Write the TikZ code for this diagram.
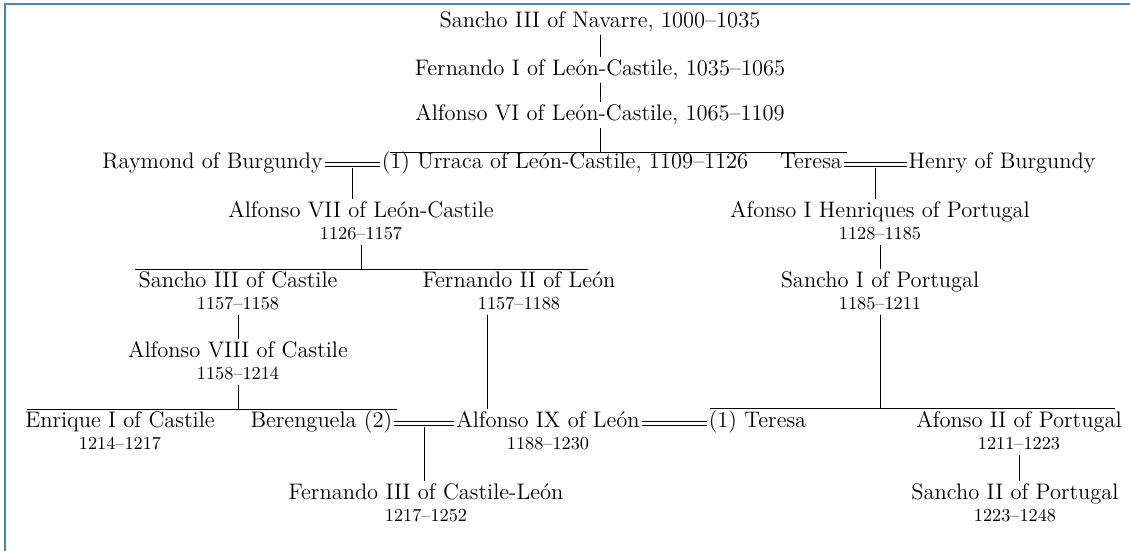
\documentclass[tikz,border=0pt]{standalone}
\usepackage{tikz}
\usetikzlibrary{positioning}
\usetikzlibrary{graphs}
\definecolor{frameblue}{RGB}{79,129,189}
\tikzset{person/.style={inner sep=1pt, text height=9pt, text depth=3pt, font=\fontsize{12.8}{15}\selectfont}}
\tikzset{reign/.style={inner sep=1pt, text height=7pt, text depth=2pt, font=\fontsize{10.4}{12}\selectfont}}
\tikzset{wed/.style={double, double distance=1.8pt, line width=0.35pt}}

\begin{document}
\begin{tikzpicture}[x=0.02cm, y=-0.02cm]
            \useasboundingbox (0,0) rectangle (1130,551);
            \draw[frameblue, line width=1.2pt] (5,551) -- (5,4) -- (1130,4);

            % first generations
            \node (s3n) [person] at (600,22)  {Sancho III of Navarre, 1000--1035};
            \node (f1)  [person] at (600,70)  {Fernando I of León-Castile, 1035--1065};
            \node (a6)  [person] at (600,115) {Alfonso VI of León-Castile, 1065--1109};

            \node (urr)  [person] at (565,163)         {(1) Urraca of León-Castile, 1109--1126};
            \node (ray)  [person, left=1.1cm of urr]   {Raymond of Burgundy};
            \node (ter1) [person] at (811,163)         {Teresa};
            \node (hen)  [person, right=1.25cm of ter1] {Henry of Burgundy};

            \node (a7)   [person] at (361,212)  {Alfonso VII of León-Castile};
            \node (a7d)  [reign, below=0pt of a7]  {1126--1157};
            \node (afh)  [person] at (880,212)  {Afonso I Henriques of Portugal};
            \node (afhd) [reign, below=0pt of afh] {1128--1185};

            \node (s3c)  [person] at (238,282)  {Sancho III of Castile};
            \node (s3cd) [reign, below=0pt of s3c] {1157--1158};
            \node (f2)   [person] at (519,282)  {Fernando II of León};
            \node (f2d)  [reign, below=0pt of f2]  {1157--1188};
            \node (s1p)  [person] at (880,282)  {Sancho I of Portugal};
            \node (s1pd) [reign, below=0pt of s1p] {1185--1211};

            \node (a8)   [person] at (238,352)  {Alfonso VIII of Castile};
            \node (a8d)  [reign, below=0pt of a8]  {1158--1214};

            % last generations
            \node (en1)  [person] at (120,422)   {Enrique I of Castile};
            \node (en1d) [reign, below=0pt of en1] {1214--1217};
            \node (a9)   [person] at (548,422)   {Alfonso IX of León};
            \node (a9d)  [reign, below=0pt of a9]  {1188--1230};
            \node (ber)  [person, left=1.2cm of a9]   {Berenguela (2)};
            \node (ter2) [person, right=1.3cm of a9]  {(1) Teresa};
            \node (af2)  [person] at (1019,422)  {Afonso II of Portugal};
            \node (af2d) [reign, below=0pt of af2] {1211--1223};

            \node (f3)   [person] at (426,494)   {Fernando III of Castile-León};
            \node (f3d)  [reign, below=0pt of f3]  {1217--1252};
            \node (s2p)  [person] at (1015,494)  {Sancho II of Portugal};
            \node (s2pd) [reign, below=0pt of s2p] {1223--1248};

            % sibling bars
            \coordinate (b1l) at (390,152);  \coordinate (b1r) at (847,152);
            \coordinate (b2l) at (135,269);  \coordinate (b2r) at (588,269);
            \coordinate (b3l) at (27,409);   \coordinate (b3r) at (397,409);
            \coordinate (b4l) at (710,408);  \coordinate (b4r) at (1115,408);
            \draw (b1l) -- (b1r);
            \draw (b2l) -- (b2r);
            \draw (b3l) -- (b3r);
            \draw (b4l) -- (b4r);

            % marriages
            \draw[wed] (ray.mid east) -- coordinate[midway] (m1) (urr.mid west);
            \draw[wed] (ter1.mid east) -- coordinate[midway] (m2) (hen.mid west);
            \draw[wed] (ber.mid east) -- coordinate[midway] (m3) (a9.mid west);
            \draw[wed] (a9.mid east) -- (ter2.mid west);

            % descent
            \graph{
                (s3n) -- (f1) -- (a6);
                (afhd) -- (s1p);
                (s3cd) -- (a8);
            };
            \draw (a6) -- (a6 |- b1l);
            \draw ([yshift=-2pt]m1) -- (m1 |- a7.north);
            \draw ([yshift=-2pt]m2) -- (m2 |- afh.north);
            \draw (a7d) -- (a7d |- b2l);
            \draw (a8d) -- (a8d |- b3l);
            \draw (s1pd) -- (s1pd |- b4l);
            \draw ([xshift=-32*0.02cm]f2d.south) -- ([xshift=-32*0.02cm]f2d.south |- a9.north);
            \draw ([yshift=-2pt]m3) -- (m3 |- f3.north);
            \draw (af2d.south) -- (af2d.south |- s2p.north);
        \end{tikzpicture}
\end{document}
